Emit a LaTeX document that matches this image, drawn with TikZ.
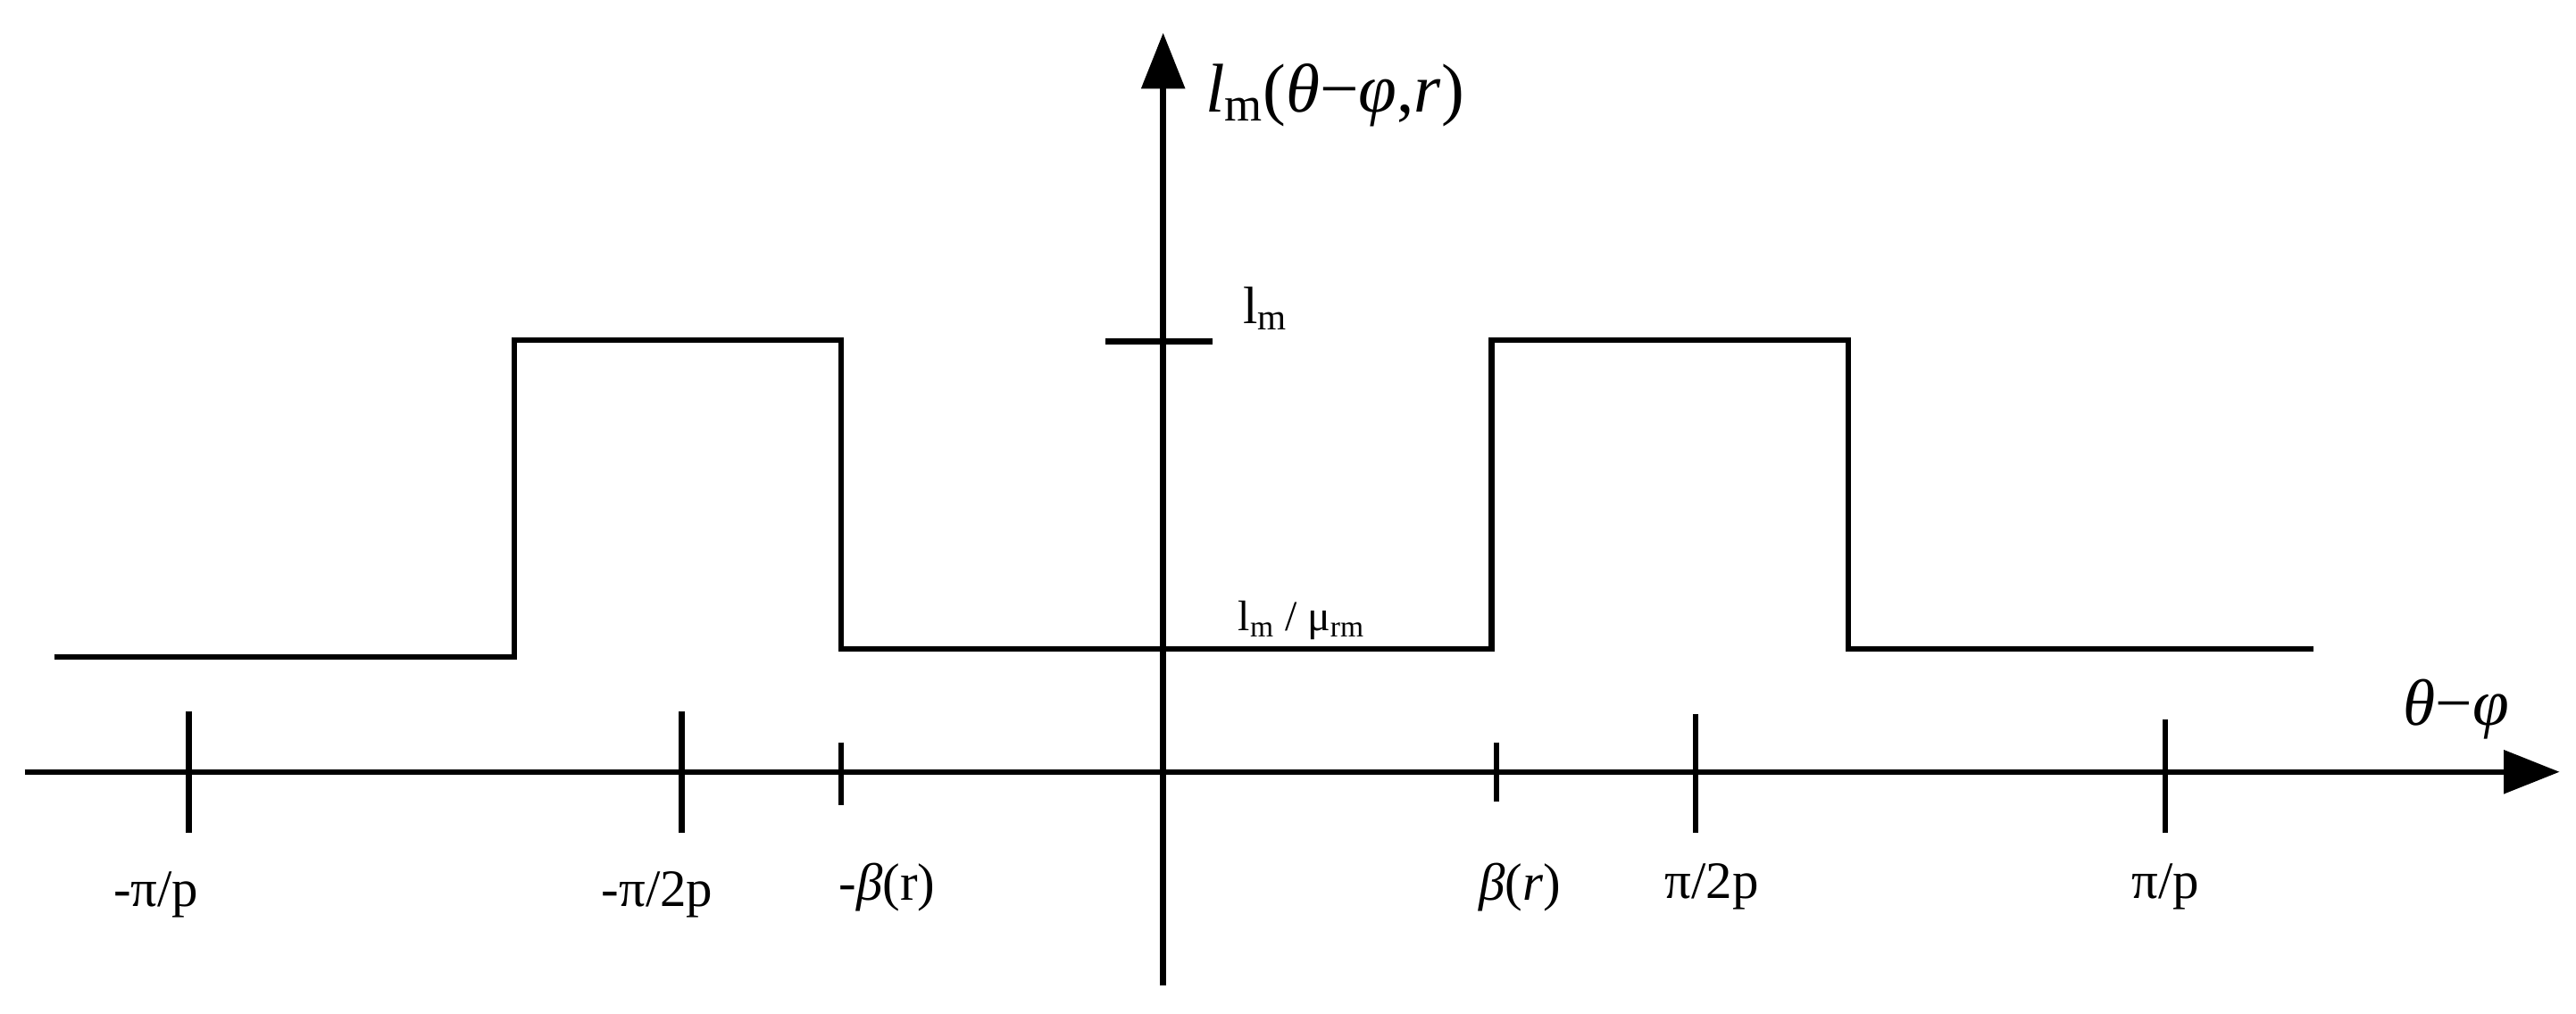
\documentclass[tikz,border=0pt]{standalone}
\usepackage{fontspec}
\setmainfont{Liberation Serif}
\usetikzlibrary{arrows.meta}
\begin{document}
\begin{tikzpicture}[x=1pt,y=-1pt,line width=3.5pt,
  lab/.style={font=\fontsize{32}{36}\selectfont,inner sep=0pt},
  ax/.style={-{Triangle[length=34pt,width=26pt]}}]
\useasboundingbox (0,0) rectangle (1568,617);
% axes
\coordinate (xs) at (15,470); \coordinate (xe) at (1558,470);
\coordinate (ys) at (708,600); \coordinate (ye) at (708,20);
\draw[ax] (xs) -- (xe);
\draw[ax] (ys) -- (ye);
% waveform
\draw[line cap=butt] (33,400) -- (313,400) -- (313,207) -- (512,207) -- (512,395) -- (908,395) -- (908,207) -- (1125,207) -- (1125,395) -- (1408,395);
% y ticks
\draw (673,208) -- (738,208);
\draw (708,385) -- (708,408);
% x ticks
\draw (115,433) -- (115,507);
\draw (415,433) -- (415,507);
\draw (512,452) -- (512,490);
\draw (911,452) -- (911,488);
\draw (1032,435) -- (1032,507);
\draw (1318,438) -- (1318,507);
% labels
\node[lab] (l1) at (95,545) {-π/p};
\node[lab] (l2) at (400,545) {-π/2p};
\node[lab] (l3) at (540,540) {-\textit{β}(r)};
\node[lab] (l4) at (925,540) {\textit{β}(\textit{r})};
\node[lab] (l5) at (1042,540) {π/2p};
\node[lab] (l6) at (1318,540) {π/p};
\node[lab,font=\fontsize{40}{44}\selectfont] (xl) at (1495,432) {\textit{θ}−\textit{φ}};
\node[lab,font=\fontsize{42}{46}\selectfont,anchor=west] (yl) at (732,58) {\textit{l}\textsubscript{m}(\textit{θ}−\textit{φ},\textit{r})};
\node[lab,anchor=west] (lm) at (755,188) {l\textsubscript{m}};
\node[lab,font=\fontsize{26}{30}\selectfont,anchor=west] (lmu) at (752,378) {l\textsubscript{m} / μ\textsubscript{rm}};
\end{tikzpicture}
\end{document}
